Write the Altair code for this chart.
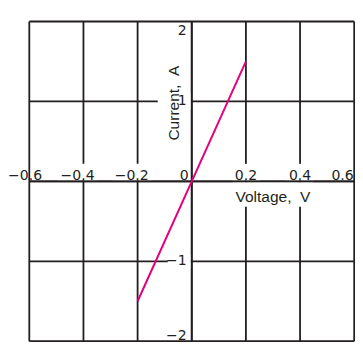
import altair as alt
import pandas as pd

# ---- data ----
x_grid = [-0.6, -0.4, -0.2, 0.0, 0.2, 0.4, 0.6]
y_grid = [-2, -1, 0, 1, 2]
voltage = [-0.2, 0.0, 0.2]
current = [-1.5, 0.0, 1.5]

x_neg_vals = [-0.4, -0.2]
x_neg_labels = ["−0.4", "−0.2"]
x_pos_vals = [0.2, 0.4]
x_pos_labels = ["0.2", "0.4"]
x_left_vals = [-0.6]
x_left_labels = ["−0.6"]
x_right_vals = [0.6]
x_right_labels = ["0.6"]
y_mid_vals = [1, -1]
y_mid_labels = ["1", "−1"]
y_top_vals = [2]
y_top_labels = ["2"]
y_bot_vals = [-2]
y_bot_labels = ["−2"]
origin_labels = ["0"]
x_title = "Voltage,\u00a0\u00a0V"
y_title = "Current,\u00a0\u00a0A"
x_title_at = 0.3
y_title_at = 1

INK = "#231f20"
PINK = "#e6007e"
TICK_FONT = "DejaVu Sans"
TITLE_FONT = "Liberation Sans"

xs = alt.Scale(domain=[-0.6, 0.6], nice=False, zero=False)
ys = alt.Scale(domain=[-2, 2], nice=False, zero=False)


def X(field="x"):
    return alt.X(f"{field}:Q", scale=xs, axis=None)


def Y(field="y"):
    return alt.Y(f"{field}:Q", scale=ys, axis=None)


def text(df, **kw):
    return alt.Chart(df).mark_text(fill=INK, **kw).encode(x=X(), y=Y(), text="t:N")


def knockout(xv, yv, path):
    # white patch behind a label (custom symbol, size=4 -> path units are pixels)
    df = pd.DataFrame({"x": xv, "y": yv})
    return alt.Chart(df).mark_point(
        shape=path, size=4, filled=True, fill="white", strokeWidth=0, opacity=1
    ).encode(x=X(), y=Y())


def xlabels(vals, labels, dx=0.0, align="center"):
    df = pd.DataFrame({"x": vals, "y": [0] * len(vals), "t": labels})
    return text(df, align=align, baseline="alphabetic", dx=dx, dy=-1.8,
                font=TICK_FONT, fontSize=14)


def ylabels(vals, labels, baseline, dy):
    df = pd.DataFrame({"x": [0.0] * len(vals), "y": vals, "t": labels})
    return text(df, align="right", baseline=baseline, dx=-5, dy=dy,
                font=TICK_FONT, fontSize=14)


rule_kw = dict(color=INK, strokeWidth=1.8)
vgrid = alt.Chart(pd.DataFrame({"x": x_grid})).mark_rule(**rule_kw).encode(x=X())
hgrid = alt.Chart(pd.DataFrame({"y": y_grid})).mark_rule(**rule_kw).encode(y=Y())
# zero axes, drawn again over the white knock-outs
vaxis = alt.Chart(pd.DataFrame({"x": [0.0]})).mark_rule(**rule_kw).encode(x=X())
haxis = alt.Chart(pd.DataFrame({"y": [0]})).mark_rule(**rule_kw).encode(y=Y())

line = alt.Chart(pd.DataFrame({"voltage": voltage, "current": current})).mark_line(
    color=PINK, strokeWidth=2).encode(x=X("voltage"), y=Y("current"), order="voltage:Q")

xt_df = pd.DataFrame({"x": [x_title_at], "y": [0], "t": [x_title]})
yt_df = pd.DataFrame({"x": [0.0], "y": [y_title_at], "t": [y_title]})
origin_df = pd.DataFrame({"x": [0.0], "y": [0], "t": origin_labels})

knockouts = [
    knockout(x_neg_vals, [0] * len(x_neg_vals), "M-26,-17.5H14V-1H-26Z"),
    knockout(x_pos_vals, [0] * len(x_pos_vals), "M-14,-17.5H14V-1H-14Z"),
    knockout([0.0], [y_title_at], "M-34,-8H-1V8H-34Z"),
    knockout([0.0] * len(y_mid_vals), y_mid_vals, "M-24,-7H-1V7H-24Z"),
    knockout([x_title_at], [0], "M-40,1H40V25.5H-40Z"),
]

chart = alt.layer(
    vgrid, hgrid,
    *knockouts,
    vaxis, haxis,
    line,
    xlabels(x_neg_vals, x_neg_labels, dx=-5.9),
    xlabels(x_pos_vals, x_pos_labels),
    xlabels(x_left_vals, x_left_labels, dx=-4.2),
    xlabels(x_right_vals, x_right_labels, dx=-0.5, align="right"),
    text(origin_df, align="right", baseline="alphabetic", dx=-3, dy=-1.8,
         font=TICK_FONT, fontSize=14),
    ylabels(y_mid_vals, y_mid_labels, "middle", 0),
    ylabels(y_top_vals, y_top_labels, "top", 2),
    ylabels(y_bot_vals, y_bot_labels, "alphabetic", -1),
    text(xt_df, align="center", baseline="alphabetic", dy=20.4,
         font=TITLE_FONT, fontSize=15.5),
    text(yt_df, align="center", baseline="alphabetic", angle=270, dx=-1.7, dy=-13,
         font=TITLE_FONT, fontSize=15.5),
).properties(
    width=324.9, height=319.7,
    autosize=alt.AutoSizeParams(type="none"),
    padding={"left": 21.3, "top": 13.5, "right": 0.8, "bottom": 0.8},
    background="white",
).configure_view(strokeWidth=0)

chart.save("out.html", embed_options={"renderer": "svg", "actions": False})
